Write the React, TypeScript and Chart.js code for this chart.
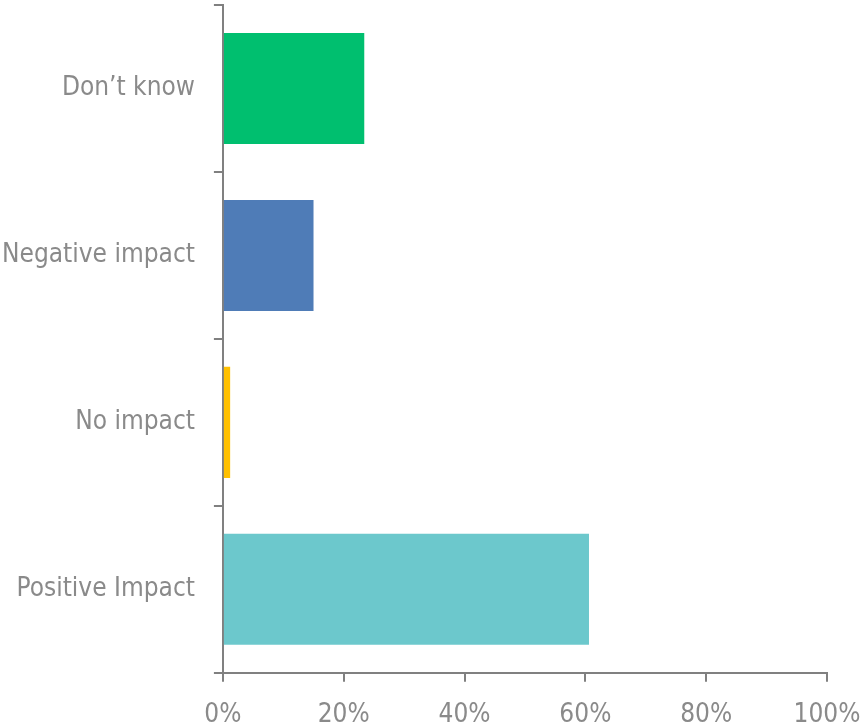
import React, { useEffect, useRef } from "react";
import { Chart, registerables } from "chart.js";

Chart.register(...registerables);

const categories = ["Don\u2019t know", "Negative impact", "No impact", "Positive Impact"];
const values = [23.4, 15.0, 1.2, 60.6];
const barColors = ["#00BF6F", "#4F7CB7", "#FFC000", "#6CC8CC"];
const xTicks = [0, 20, 40, 60, 80, 100];

export default function App() {
  const ref = useRef<HTMLCanvasElement | null>(null);
  useEffect(() => {
    document.body.style.margin = "0";
    const ctx = ref.current!;
    const font = { family: "'Liberation Sans Narrow', 'DejaVu Sans Condensed', sans-serif", size: 26 };
    const chart = new Chart(ctx, {
      type: "bar",
      data: {
        labels: categories,
        datasets: [
          {
            data: values,
            backgroundColor: barColors,
            barPercentage: 0.665,
            categoryPercentage: 1,
          },
        ],
      },
      options: {
        indexAxis: "y",
        animation: false,
        responsive: false,
        layout: { padding: { top: 5, right: 0, bottom: 0, left: 2 } },
        plugins: { legend: { display: false }, tooltip: { enabled: false } },
        scales: {
          x: {
            min: 0,
            max: 100,
            afterBuildTicks: (axis: any) => {
              axis.ticks = xTicks.map((v) => ({ value: v }));
            },
            afterFit: (axis: any) => {
              axis.height = axis.height - 24;
              axis.paddingRight = 36;
              axis.paddingLeft = 0;
            },
            border: { display: true, color: "#808080", width: 2 },
            grid: { drawOnChartArea: false, drawTicks: true, tickLength: 9, color: "#808080", lineWidth: 2 },
            ticks: {
              color: "#8a8a8a",
              font,
              padding: 18,
              callback: (v: any) => v + "%",
            },
          },
          y: {
            afterFit: (axis: any) => {
              axis.paddingTop = 0;
              axis.paddingBottom = 0;
              axis.width = axis.width - 19;
            },
            border: { display: true, color: "#808080", width: 2 },
            grid: { drawOnChartArea: false, drawTicks: true, tickLength: 9, color: "#808080", lineWidth: 2, offset: true },
            ticks: { color: "#8a8a8a", font, padding: 19 },
          },
        },
      },
    });
    return () => chart.destroy();
  }, []);
  return <canvas ref={ref} width={863} height={725} style={{ display: "block" }} />;
}
